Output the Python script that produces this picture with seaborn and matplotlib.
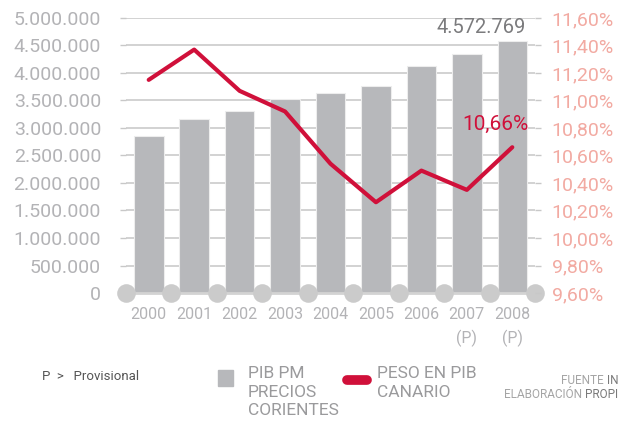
import numpy as np
import pandas as pd
import matplotlib
matplotlib.use("Agg")
import matplotlib.pyplot as plt
import seaborn as sns
from matplotlib.lines import Line2D
from matplotlib.patches import Rectangle

# Datos
anios = ['2000', '2001', '2002', '2003', '2004', '2005', '2006', '2007', '2008']
etiquetas_x = ['2000', '2001', '2002', '2003', '2004', '2005', '2006', '2007\n(P)', '2008\n(P)']
pib_pm = [2855000, 3164000, 3309000, 3522000, 3633000, 3769000, 4127000, 4340000, 4572769]
peso_pib = [11.15, 11.37, 11.07, 10.92, 10.54, 10.26, 10.49, 10.35, 10.66]

ticks_izq = [0, 500000, 1000000, 1500000, 2000000, 2500000, 3000000, 3500000, 4000000, 4500000, 5000000]
ticks_der = [9.6, 9.8, 10.0, 10.2, 10.4, 10.6, 10.8, 11.0, 11.2, 11.4, 11.6]

df = pd.DataFrame({'Año': anios, 'PIB': pib_pm, 'Peso': peso_pib})

GRIS_BARRA = '#b7b8bb'
ROJO = '#d0103a'
GRIS_TXT = '#b3b3b6'
ROSA = '#f2aaa2'

sns.set_style('white')
plt.rcParams['font.family'] = ['Roboto', 'DejaVu Sans']

fig = plt.figure(figsize=(6.18, 4.28), dpi=100)
ax = fig.add_axes([0.2039, 0.3154, 0.6618, 0.6426])

# Barras
sns.barplot(data=df, x='Año', y='PIB', color=GRIS_BARRA, width=0.65,
            edgecolor='#ededed', linewidth=0.8, saturation=1, ax=ax, zorder=2)
ax.set_ylim(0, 5000000)
ax.set_xlim(-0.5, len(anios) - 0.5)
ax.set_yticks(ticks_izq)
ax.set_yticklabels([f"{v:,.0f}".replace(",", ".") for v in ticks_izq])
ax.set_xticks(range(len(anios)))
ax.set_xticklabels(etiquetas_x, linespacing=1.6)
ax.set_xlabel('')
ax.set_ylabel('')
ax.yaxis.grid(True, color='#cfcfcf', linewidth=1.3, zorder=0)
ax.set_axisbelow(True)
for s in ax.spines.values():
    s.set_visible(False)
ax.tick_params(axis='y', colors='#c8c8c8', labelcolor=GRIS_TXT, labelsize=14,
               length=4, width=1, pad=14, left=True)
ax.tick_params(axis='x', labelcolor=GRIS_TXT, labelsize=11.5, length=0, pad=10)

# Eje inferior con círculos
ax.axhline(0, color='#d3d3d3', linewidth=2, zorder=3, clip_on=False)
ax.scatter(np.arange(len(anios) + 1) - 0.5, np.zeros(len(anios) + 1), s=180,
           color='#cbcbcb', zorder=4, clip_on=False, linewidths=0)

# Linea en eje secundario
ax2 = ax.twinx()
sns.lineplot(x=np.arange(len(anios)), y=peso_pib, color=ROJO, linewidth=3, ax=ax2)
ax2.set_ylim(9.6, 11.6)
ax2.set_yticks(ticks_der)
ax2.set_yticklabels([f"{v:.2f}%".replace(".", ",") for v in ticks_der])
for s in ax2.spines.values():
    s.set_visible(False)
ax2.tick_params(axis='y', colors='#c8c8c8', labelcolor=ROSA, labelsize=14,
                length=4, width=1, pad=8, right=True)

# Anotaciones
ax.text(len(anios) - 1 + 0.3, pib_pm[-1] + 90000, f"{pib_pm[-1]:,.0f}".replace(",", "."),
        ha='right', va='bottom', fontsize=14.5, color='#7b7b7d', zorder=5)
ax2.text(len(anios) - 1 + 0.35, peso_pib[-1] + 0.1, f"{peso_pib[-1]:.2f}%".replace(".", ","),
         ha='right', va='bottom', fontsize=15, color=ROJO, zorder=5)

# Leyenda inferior
fig.text(42 / 618, 1 - 377 / 428, 'P  >   Provisional', fontsize=9.5, color='#555555', va='center')
fig.patches.append(Rectangle((218 / 618, 1 - 386 / 428), 15 / 618, 16 / 428,
                             transform=fig.transFigure, color=GRIS_BARRA))
fig.text(248 / 618, 1 - 366 / 428, 'PIB PM\nPRECIOS\nCORIENTES', fontsize=12.5,
         color='#9a9a9c', va='top', linespacing=1.3)
fig.lines.append(Line2D([347 / 618, 367 / 618], [1 - 380 / 428, 1 - 380 / 428],
                        transform=fig.transFigure, color=ROJO, linewidth=7,
                        solid_capstyle='round'))
fig.text(377 / 618, 1 - 366 / 428, 'PESO EN PIB\nCANARIO', fontsize=12.5,
         color='#9a9a9c', va='top', linespacing=1.3)

# Fuente
t1 = fig.text(1.0, 1 - 381 / 428, 'IN', fontsize=8.5, color='#7a7a7a', ha='right', va='center')
t2 = fig.text(1.0, 1 - 394 / 428, 'PROPI', fontsize=8.5, color='#7a7a7a', ha='right', va='center')
ax.annotate('FUENTE ', xy=(0, 0.5), xycoords=t1, fontsize=8.5, color='#a5a5a5',
            ha='right', va='center', annotation_clip=False)
ax.annotate('ELABORACIÓN ', xy=(0, 0.5), xycoords=t2, fontsize=8.5, color='#a5a5a5',
            ha='right', va='center', annotation_clip=False)

fig.savefig('out.png', dpi=100)
